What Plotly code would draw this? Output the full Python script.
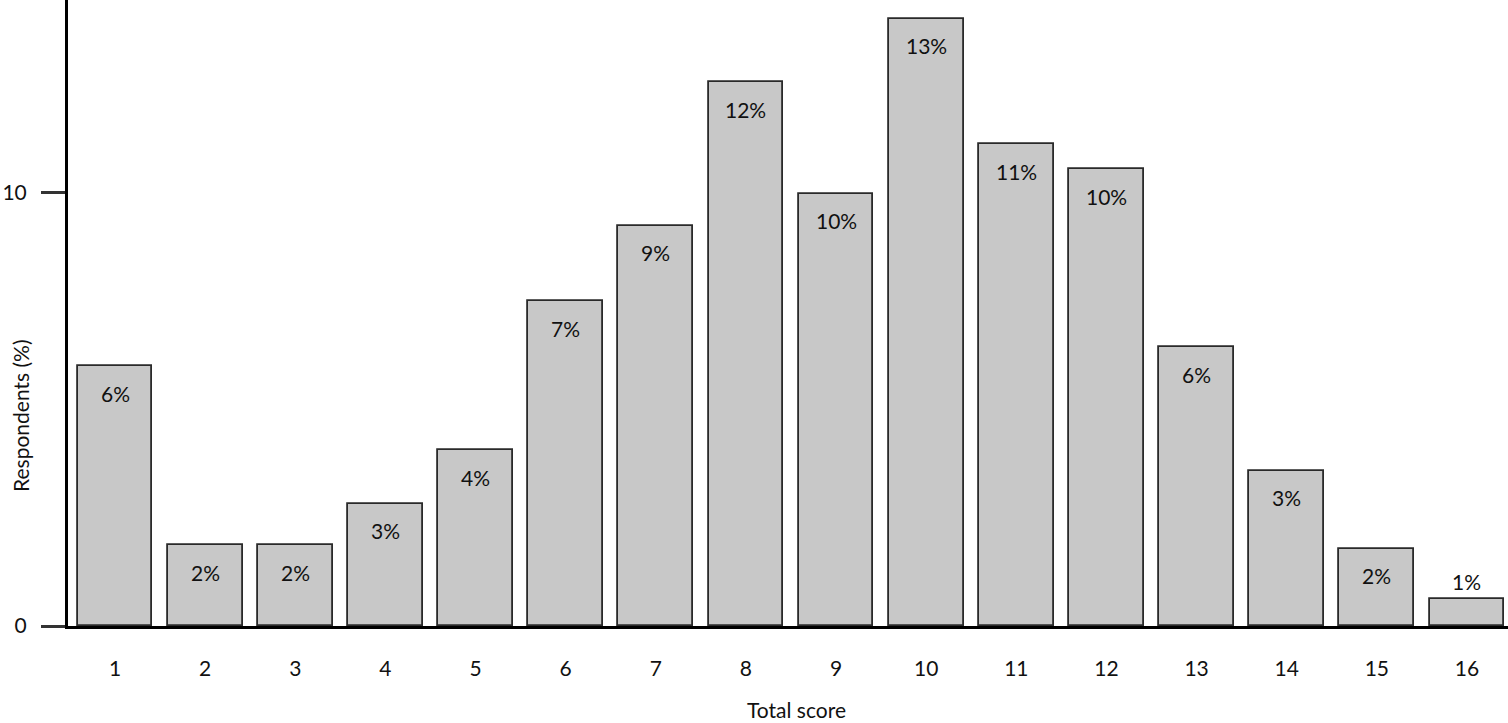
import plotly.graph_objects as go

scores = list(range(1, 17))
values = [6.0, 1.87, 1.87, 2.82, 4.06, 7.5, 9.24, 12.56, 9.98, 14.02, 11.13, 10.55, 6.44, 3.58, 1.78, 0.62]
labels = ["6%", "2%", "2%", "3%", "4%", "7%", "9%", "12%", "10%", "13%", "11%", "10%", "6%", "3%", "2%", "1%"]
y_ticks = [0, 10]

FONT = "Lato"

fig = go.Figure()
fig.add_trace(go.Bar(
    x=scores, y=values, width=0.83,
    marker=dict(color="#c8c8c8", line=dict(color="#2a2a2a", width=1.8)),
    hoverinfo="skip",
))

anns = []
for s, v, t in zip(scores, values, labels):
    inside = v > 1.2
    anns.append(dict(x=s, y=v, xref="x", yref="y", text=t, showarrow=False,
                     yanchor="middle", yshift=-27 if inside else 18,
                     font=dict(family=FONT, size=21, color="#111")))
anns.append(dict(x=(796 - 68) / 1440, y=(626 - 709) / 626, xref="paper", yref="paper",
                 text="Total score", showarrow=False, xanchor="center", yanchor="middle",
                 font=dict(family=FONT, size=21, color="#111")))
anns.append(dict(x=(20 - 68) / 1440, y=(626 - 416) / 626, xref="paper", yref="paper",
                 text="Respondents (%)", showarrow=False, textangle=-90,
                 xanchor="center", yanchor="middle",
                 font=dict(family=FONT, size=21, color="#111")))

fig.update_layout(
    width=1508, height=723,
    margin=dict(l=68, r=0, t=0, b=97),
    plot_bgcolor="white", paper_bgcolor="white",
    showlegend=False, bargap=0,
    annotations=anns,
    xaxis=dict(range=[0.478, 16.455], tickmode="array", tickvals=scores,
               ticktext=[str(s) for s in scores], ticks="", showgrid=False,
               showline=True, linecolor="black", linewidth=3, zeroline=False,
               tickfont=dict(family=FONT, size=21, color="#111"),
               ticklabelstandoff=22),
    yaxis=dict(range=[0, 14.457], tickmode="array", tickvals=y_ticks,
               ticks="outside", ticklen=24, tickwidth=3, tickcolor="#333",
               showgrid=False, showline=True, linecolor="black", linewidth=3,
               zeroline=False, ticklabelstandoff=10,
               tickfont=dict(family=FONT, size=21, color="#111")),
)

fig.write_html("out.html", config={"displayModeBar": False},
               post_script="document.body.style.margin='0';document.body.style.overflow='hidden';")
